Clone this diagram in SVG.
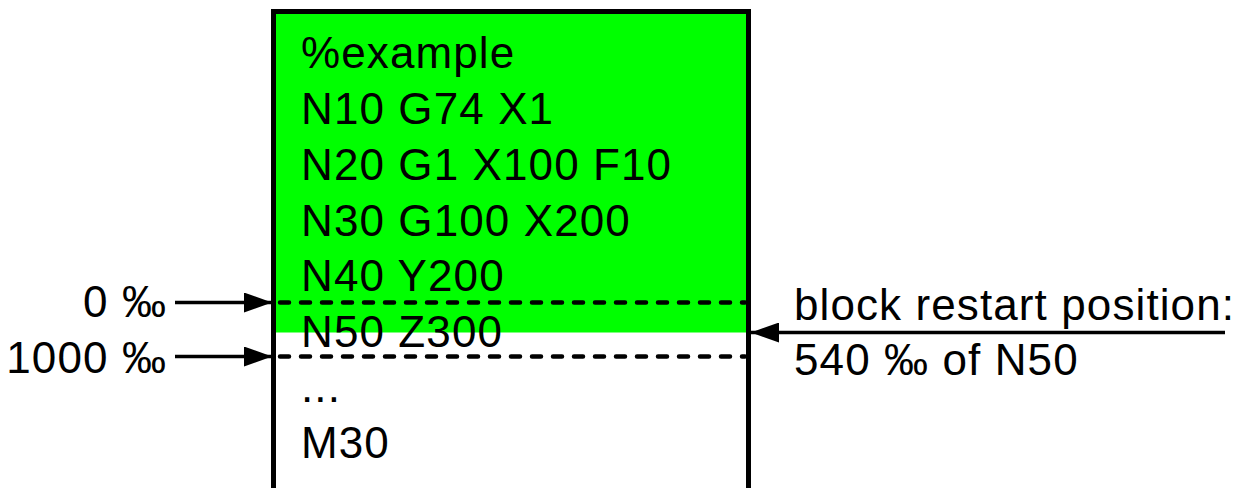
<svg xmlns="http://www.w3.org/2000/svg" width="1241" height="488" viewBox="0 0 1241 488">
<style>
text{font-family:"Liberation Sans",Arial,sans-serif;font-size:44px;letter-spacing:1.1px;fill:#000}
.dash{stroke:#000;stroke-width:4.5;stroke-dasharray:9 12;stroke-linecap:round;fill:none}
.ln{stroke:#000;stroke-width:3.5;fill:none}
</style>
<defs>
<marker id="ah" markerUnits="userSpaceOnUse" markerWidth="28" markerHeight="20" refX="28" refY="10" orient="auto">
<path d="M0,0 L28,10 L0,20 Z" fill="#000"/>
</marker>
</defs>
<g id="program">
<rect x="276" y="14" width="470" height="318.5" fill="#00ff00"/>
<path d="M273.5,500 V11.5 H748.5 V500" fill="none" stroke="#000" stroke-width="5"/>
<text x="301" y="68">%example</text>
<text x="301" y="124">N10 G74 X1</text>
<text x="301" y="180">N20 G1 X100 F10</text>
<text x="301" y="235.5">N30 G100 X200</text>
<text x="301" y="291">N40 Y200</text>
<text x="301" y="346.5">N50 Z300</text>
<text x="301" y="402">...</text>
<text x="301" y="458">M30</text>
</g>
<g id="labels">
<text x="167" y="317" text-anchor="end">0 ‰</text>
<text x="167" y="373" text-anchor="end">1000 ‰</text>
<text x="794" y="320">block restart position:</text>
<text x="794" y="375">540 ‰ of N50</text>
</g>
<g id="connectors">
<line class="dash" x1="280" y1="302.5" x2="745" y2="302.5"/>
<line class="dash" x1="280" y1="356.5" x2="745" y2="356.5"/>
<line class="ln" x1="175" y1="302.5" x2="272" y2="302.5" marker-end="url(#ah)"/>
<line class="ln" x1="175" y1="356.5" x2="272" y2="356.5" marker-end="url(#ah)"/>
<line class="ln" x1="1225" y1="332.5" x2="751" y2="332.5" marker-end="url(#ah)"/>
</g>
</svg>
